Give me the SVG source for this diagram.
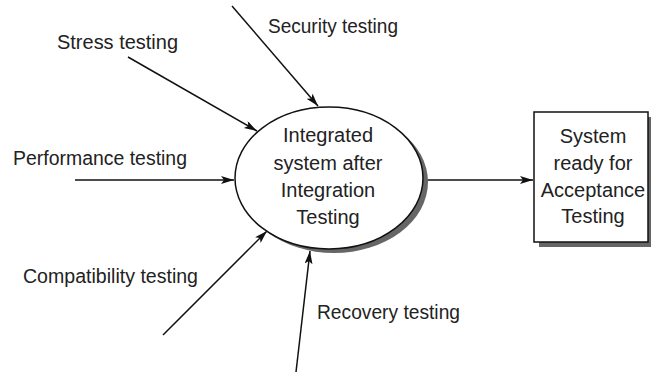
<svg xmlns="http://www.w3.org/2000/svg" width="651" height="374" viewBox="0 0 651 374">
<style>
  .lbl { font-family: "Liberation Sans", Arial, sans-serif; font-size: 20px; fill: #222; }
  .ctr { text-anchor: middle; }
  .edge { stroke: #111; stroke-width: 1.5; fill: none; marker-end: url(#arr); }
  .shadow { fill: #666; }
  .shape { fill: #fff; stroke: #111; stroke-width: 1.5; }
</style>
<defs>
  <marker id="arr" markerUnits="userSpaceOnUse" markerWidth="14" markerHeight="10" refX="13" refY="4" orient="auto">
    <path d="M0,0 L13,4 L0,8 L3,4 z" fill="#111"/>
  </marker>
</defs>
<rect width="651" height="374" fill="#fff"/>
<g id="connectors">
  <line class="edge" x1="232" y1="6" x2="318" y2="106"/>
  <line class="edge" x1="128" y1="57" x2="257" y2="131"/>
  <line class="edge" x1="75" y1="180" x2="234" y2="180"/>
  <line class="edge" x1="163" y1="335" x2="267" y2="231"/>
  <line class="edge" x1="296" y1="372" x2="310" y2="251"/>
  <line class="edge" x1="423" y1="180" x2="533" y2="180"/>
</g>
<g id="labels">
  <text class="lbl" x="57" y="49" textLength="121" lengthAdjust="spacingAndGlyphs">Stress testing</text>
  <text class="lbl" x="268" y="33" textLength="130" lengthAdjust="spacingAndGlyphs">Security testing</text>
  <text class="lbl" x="13" y="165" textLength="174" lengthAdjust="spacingAndGlyphs">Performance testing</text>
  <text class="lbl" x="23" y="283" textLength="175" lengthAdjust="spacingAndGlyphs">Compatibility testing</text>
  <text class="lbl" x="317" y="319" textLength="143" lengthAdjust="spacingAndGlyphs">Recovery testing</text>
</g>
<g id="node-integrated">
  <ellipse class="shadow" cx="334" cy="182" rx="94" ry="71"/>
  <ellipse class="shape" cx="329" cy="178" rx="94" ry="71"/>
  <text class="lbl ctr" x="328" y="142">Integrated</text>
  <text class="lbl ctr" x="328" y="170">system after</text>
  <text class="lbl ctr" x="328" y="197">Integration</text>
  <text class="lbl ctr" x="328" y="224">Testing</text>
</g>
<g id="node-ready">
  <rect class="shadow" x="539" y="117" width="112" height="130"/>
  <rect class="shape" x="534" y="112" width="114" height="130"/>
  <text class="lbl ctr" x="593" y="143">System</text>
  <text class="lbl ctr" x="593" y="170">ready for</text>
  <text class="lbl ctr" x="593" y="197">Acceptance</text>
  <text class="lbl ctr" x="593" y="223">Testing</text>
</g>
</svg>
